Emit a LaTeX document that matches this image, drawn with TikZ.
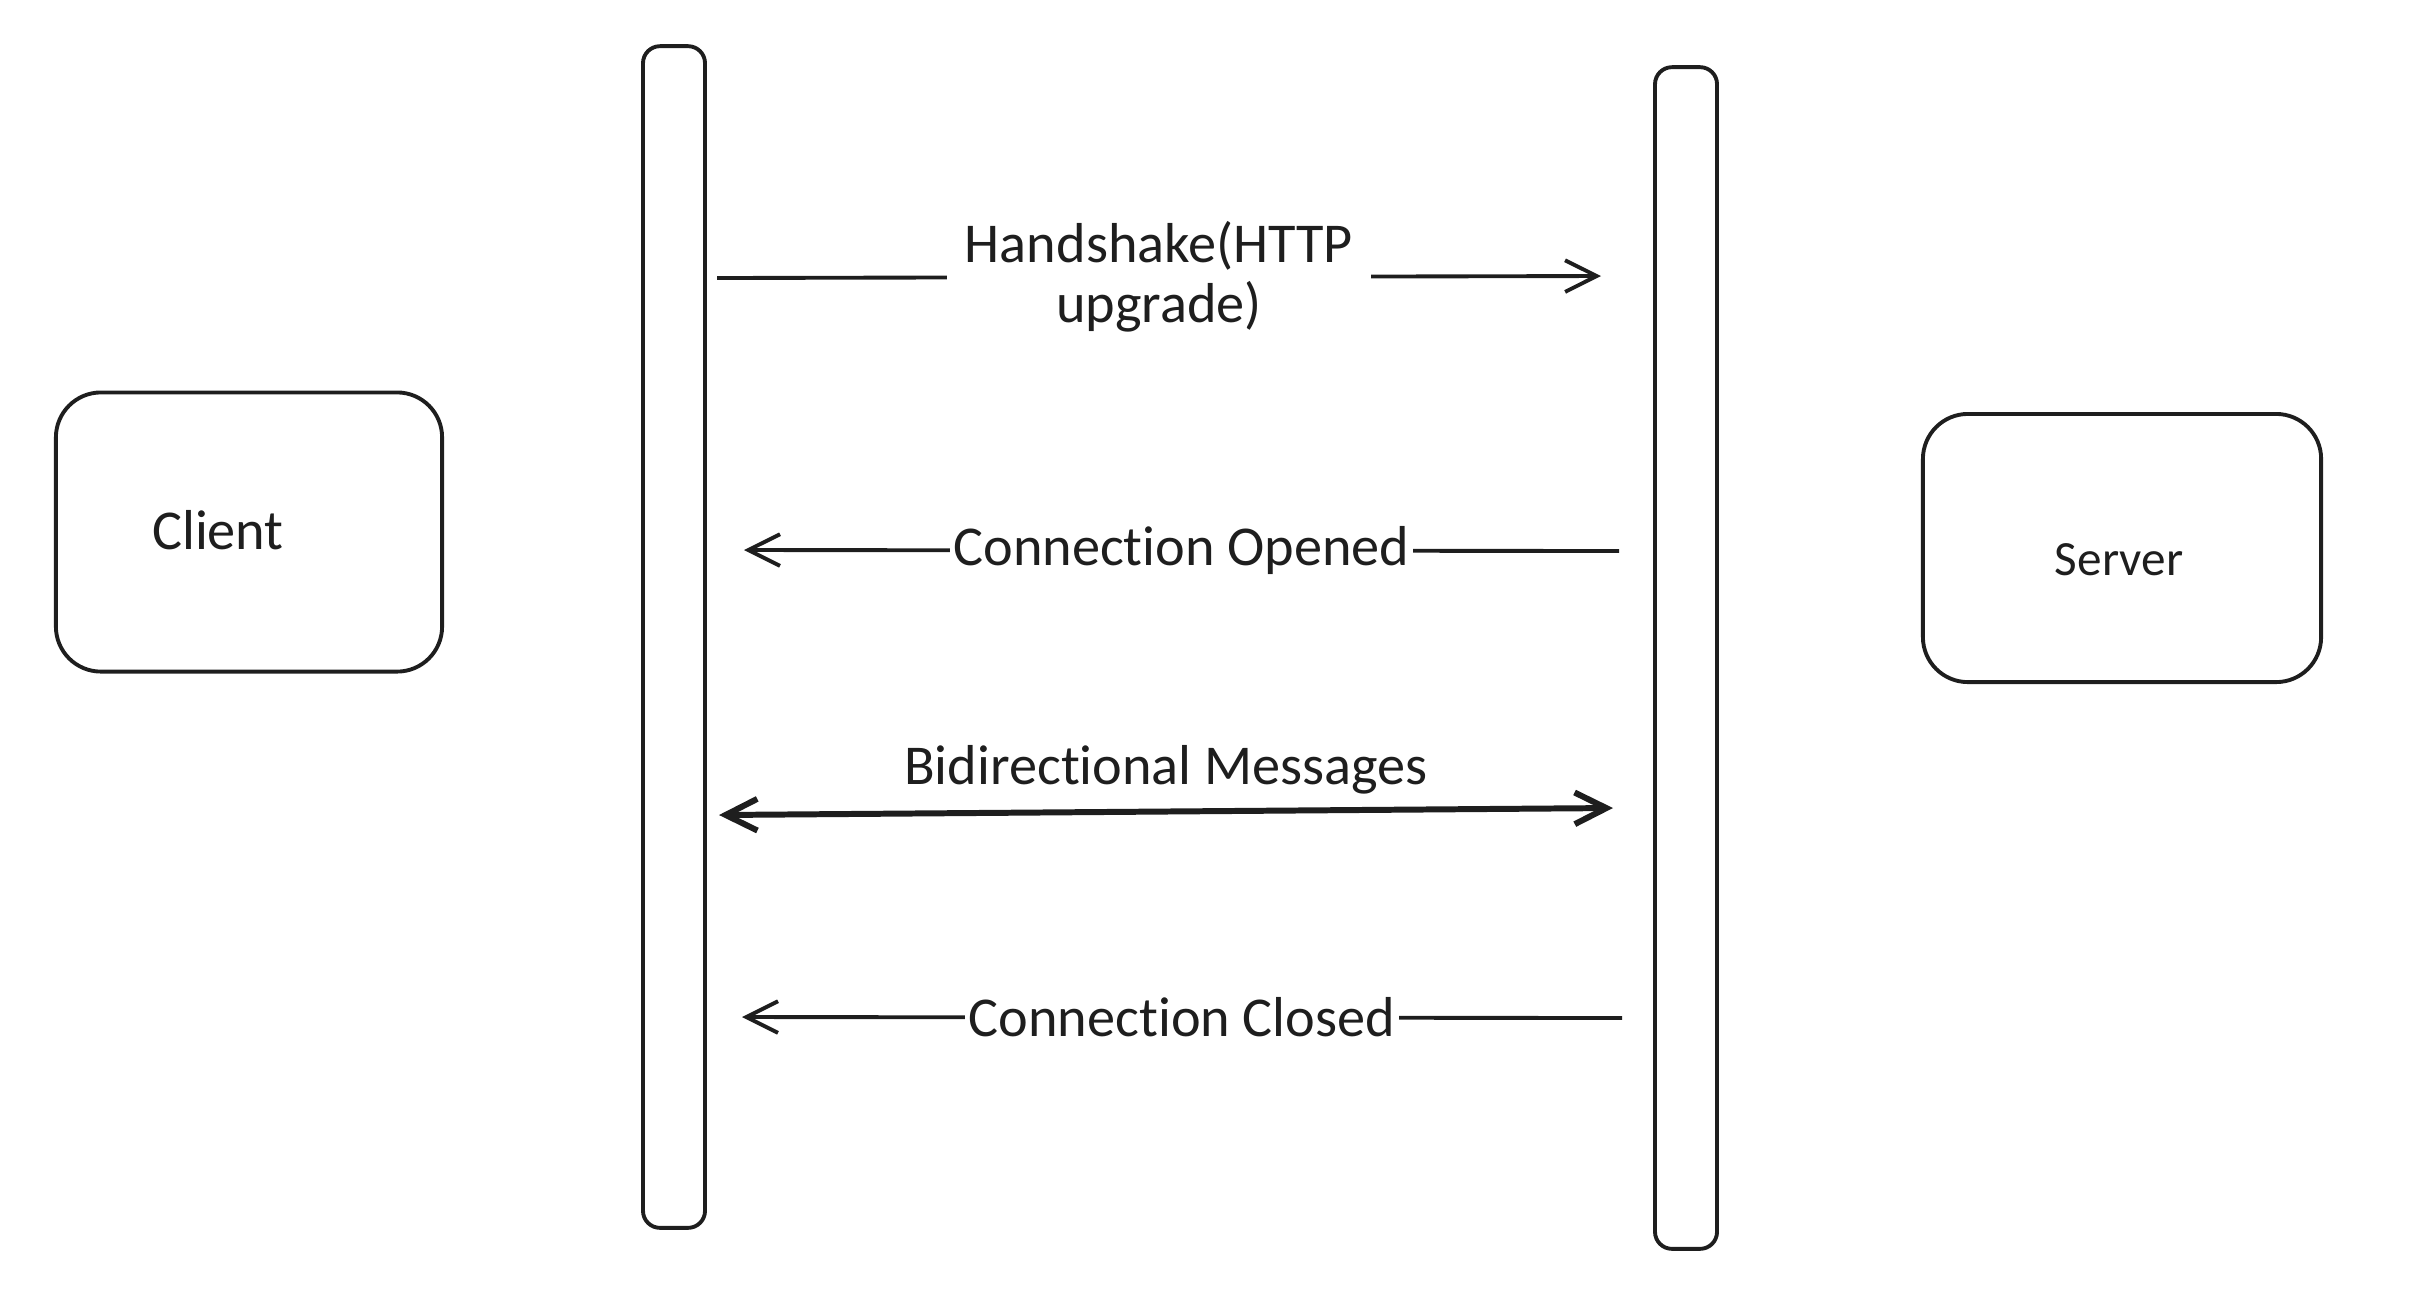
\documentclass[tikz,border=0pt]{standalone}
\usepackage{fontspec}
\setmainfont{Carlito}[Ligatures=NoCommon]
\usetikzlibrary{arrows.meta}
\definecolor{ink}{HTML}{1E1E1E}
\tikzset{
    actor/.style = {rectangle,rounded corners=0.45cm,draw=ink,fill=none,line width=1.1pt,inner sep=0pt},
    lifeline/.style = {rectangle,rounded corners=0.17cm,draw=ink,fill=none,line width=1.1pt,
                       minimum width=0.62cm,minimum height=11.81cm,inner sep=0pt},
    msg/.style = {->,draw=ink,line width=1.1pt},
    msglbl/.style = {fill=white,inner sep=1pt,text=ink,font=\fontsize{16}{17}\selectfont},
    >={Straight Barb[length=9pt,width=9pt]}
}
\begin{document}
\begin{tikzpicture}[x=0.01cm,y=-0.01cm]
        \useasboundingbox (0,0) rectangle (2416,1296);

        %% Actors
        \node[actor,minimum width=3.86cm,minimum height=2.79cm]  (client) at (249,532)  {};
        \node[text=ink,font=\fontsize{16}{17}\selectfont]        (clientt) at (218,530) {Client};
        \node[actor,minimum width=3.98cm,minimum height=2.68cm]  (server) at (2122,548) {};
        \node[text=ink,font=\fontsize{14}{15}\selectfont]        (servert) at (2119,560) {Server};

        %% Lifelines
        \node[lifeline]  (cline) at (674,637)  {};
        \node[lifeline]  (sline) at (1686,658) {};

        %% Message ends
        \coordinate (hs-c) at (717,278);
        \coordinate (hs-s) at (1601,276);
        \coordinate (op-c) at (744,550);
        \coordinate (op-s) at (1619,551);
        \coordinate (bd-c) at (719,815);
        \coordinate (bd-s) at (1613,808);
        \coordinate (cl-c) at (742,1017);
        \coordinate (cl-s) at (1622,1018);

        %% Messages
        \path   (hs-c) edge [msg]   node[msglbl,align=center,inner xsep=5pt] {Handshake(HTTP\\upgrade)} (hs-s)
                (op-s) edge [msg]   node[msglbl] {Connection Opened} (op-c)
                (bd-c) edge [msg,<->,line width=1.7pt]   node[msglbl,fill=none,above=3pt] {Bidirectional Messages} (bd-s)
                (cl-s) edge [msg]   node[msglbl] {Connection Closed} (cl-c);
\end{tikzpicture}
\end{document}
